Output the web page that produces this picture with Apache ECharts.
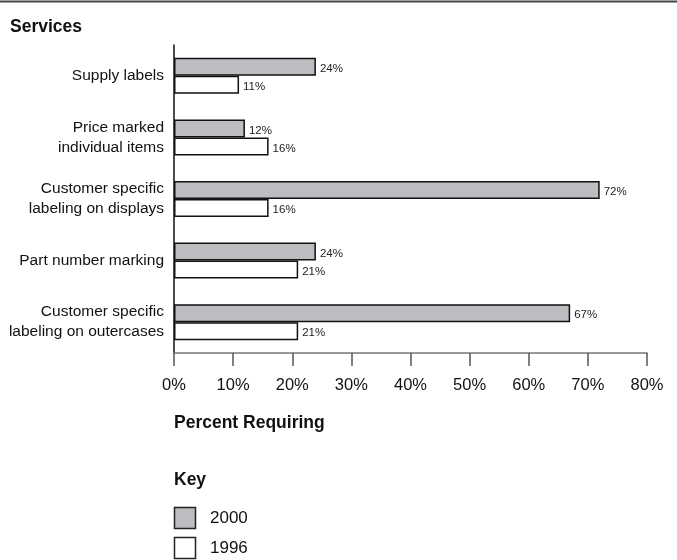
<!DOCTYPE html>
<html>
<head>
<meta charset="utf-8">
<style>
  html, body { margin: 0; padding: 0; background: #fff; }
  #chart { width: 677px; height: 560px; }
</style>
<script src="https://cdn.jsdelivr.net/npm/echarts@6/dist/echarts.min.js"></script>
</head>
<body>
<div id="chart"></div>
<script>
const categories = [
  'Supply labels',
  'Price marked\nindividual items',
  'Customer specific\nlabeling on displays',
  'Part number marking',
  'Customer specific\nlabeling on outercases'
];
const values2000 = [24, 12, 72, 24, 67];
const values1996 = [11, 16, 16, 21, 21];
const xTicks = [0, 10, 20, 30, 40, 50, 60, 70, 80];
const keyNames = ['2000', '1996'];
const keyColors = ['#bcbdc0', '#ffffff'];

const FONT = '"Liberation Sans", Arial, sans-serif';

const chart = echarts.init(document.getElementById('chart'), null, { renderer: 'canvas' });

const valueLabel = {
  show: true,
  position: 'right',
  distance: 4,
  formatter: p => p.value + '%',
  fontFamily: FONT,
  fontSize: 11.5,
  color: '#222',
  offset: [0, 2]
};

// Key swatches drawn below the axis title
const keyGraphics = [];
keyNames.forEach((name, i) => {
  const y = 507 + i * 30;
  keyGraphics.push({
    type: 'rect',
    shape: { x: 174.5, y: y + 0.5, width: 21, height: 21 },
    style: { fill: keyColors[i], stroke: '#222', lineWidth: 1.5 }
  });
  keyGraphics.push({
    type: 'text',
    x: 210,
    y: y + 11,
    style: { text: name, fontFamily: FONT, fontSize: 17, fill: '#111', verticalAlign: 'middle' }
  });
});

chart.setOption({
  animation: false,
  backgroundColor: '#fff',
  textStyle: { fontFamily: FONT },
  title: [
    { text: 'Services', left: 10, top: 18, padding: 0, textStyle: { fontFamily: FONT, fontSize: 17.5, fontWeight: 'bold', color: '#111' } },
    { text: 'Percent Requiring', left: 174, top: 414, padding: 0, textStyle: { fontFamily: FONT, fontSize: 17.5, fontWeight: 'bold', color: '#111' } },
    { text: 'Key', left: 174, top: 471, padding: 0, textStyle: { fontFamily: FONT, fontSize: 17.5, fontWeight: 'bold', color: '#111' } }
  ],
  graphic: [
    { type: 'line', shape: { x1: 0, y1: 1.5, x2: 677, y2: 1.5 }, style: { stroke: '#444', lineWidth: 2 } }
  ].concat(keyGraphics),
  grid: { left: 174, right: 30, top: 45, bottom: 207, containLabel: false },
  xAxis: {
    type: 'value',
    min: 0,
    max: 80,
    interval: 10,
    axisLine: { show: true, lineStyle: { color: '#777', width: 1.5 } },
    axisTick: { show: true, length: 13, lineStyle: { color: '#555', width: 1.5 } },
    splitLine: { show: false },
    axisLabel: {
      margin: 24,
      fontFamily: FONT,
      fontSize: 16.5,
      color: '#111',
      formatter: v => xTicks.includes(v) ? v + '%' : ''
    }
  },
  yAxis: {
    type: 'category',
    inverse: true,
    data: categories,
    axisLine: { show: true, lineStyle: { color: '#111', width: 1.5 } },
    axisTick: { show: false },
    axisLabel: {
      margin: 10,
      fontFamily: FONT,
      fontSize: 15.5,
      lineHeight: 20,
      color: '#111',
      align: 'right'
    }
  },
  series: [
    {
      name: '2000',
      type: 'bar',
      data: values2000,
      barWidth: 18,
      barGap: '0%',
      itemStyle: { color: keyColors[0], borderColor: '#111', borderWidth: 1.5 },
      label: valueLabel
    },
    {
      name: '1996',
      type: 'bar',
      data: values1996,
      barWidth: 18,
      barGap: '0%',
      itemStyle: { color: keyColors[1], borderColor: '#111', borderWidth: 1.5 },
      label: valueLabel
    }
  ]
});
</script>
</body>
</html>
